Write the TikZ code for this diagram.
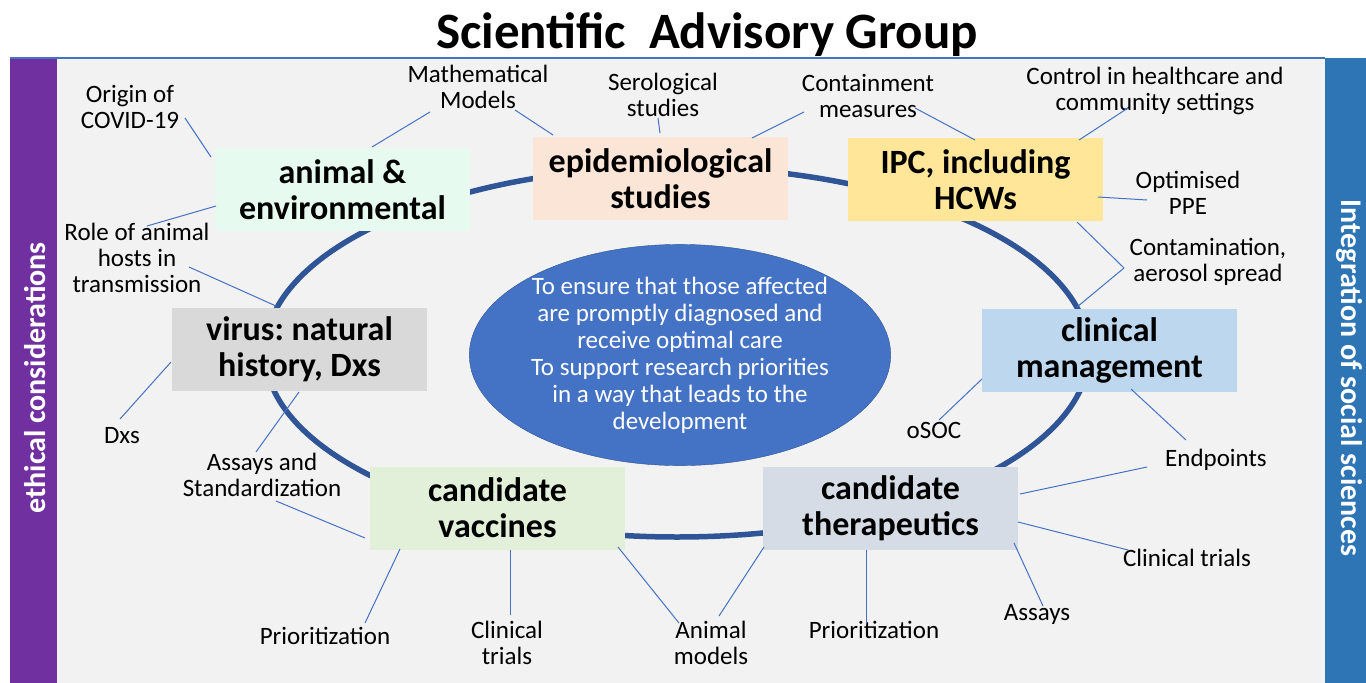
\documentclass[tikz,border=0pt]{standalone}
\usepackage{fontspec}
\setmainfont{Carlito}
\usetikzlibrary{shapes.geometric}
\frenchspacing
\definecolor{ethic}{HTML}{7030A0}
\definecolor{social}{HTML}{2E75B6}
\definecolor{ring}{HTML}{2F5597}
\definecolor{link}{HTML}{4472C4}
\definecolor{panel}{HTML}{F2F2F2}
\definecolor{cAnimal}{HTML}{E6FAF0}
\definecolor{cEpi}{HTML}{FBE5D6}
\definecolor{cIpc}{HTML}{FFE699}
\definecolor{cClin}{HTML}{BDD7EE}
\definecolor{cTher}{HTML}{D6DCE5}
\definecolor{cVacc}{HTML}{E2F0D9}
\definecolor{cVirus}{HTML}{D9D9D9}
\begin{document}
\begin{tikzpicture}[x=1pt,y=-1pt,
	area/.style={minimum width=255pt,minimum height=83pt,inner sep=0pt,align=center,
		font=\fontsize{34}{36}\selectfont\bfseries},
	topic/.style={align=center,inner sep=0pt,font=\fontsize{25}{26}\selectfont},
	side/.style={text=white,inner sep=0pt,font=\fontsize{30}{32}\selectfont\bfseries},
	link/.style={draw=link,line width=1pt}]

				\useasboundingbox (0,0) rectangle (1366,683);

				% Frame

				\fill[panel] (57,58) rectangle (1325,683);
				\fill[ethic] (10,58) rectangle (57,683);
				\fill[social] (1325,58) rectangle (1366,683);
				\draw[link,line width=1.5pt] (10,58) -- (1325,58);

				\node[anchor=base,font=\fontsize{51}{54}\selectfont\bfseries] (title) at (707,48) {Scientific\ \ Advisory Group};
				\node[side,rotate=90] (ethics) at (35,378) {ethical considerations};
				\node[side,rotate=-90] (socsci) at (1349,378) {Integration of social sciences};

				% Ring and goal

				\draw[ring,line width=5.5pt] (677,352) ellipse [x radius=412, y radius=185];
				\node[ellipse,draw=ring,fill=link,minimum width=416pt,minimum height=194pt,inner sep=0pt,
					text=white,align=center,font=\fontsize{25}{27}\selectfont] (goal) at (680,355)
					{To ensure that those affected\\are promptly diagnosed and\\receive optimal care\\
					To support research priorities\\in a way that leads to the\\development};

				% Areas

				\node[area,fill=cAnimal] (animal) at (342.5,189.5) {animal \&\\environmental};
				\node[area,fill=cEpi] (epi) at (660.5,178.5) {epidemiological\\studies};
				\node[area,fill=cIpc] (ipc) at (975.5,179.5) {IPC, including\\HCWs};
				\node[area,fill=cClin] (clin) at (1109.5,350) {clinical\\management};
				\node[area,fill=cTher] (ther) at (890.5,508.5) {candidate\\therapeutics};
				\node[area,fill=cVacc] (vacc) at (497.5,508) {candidate\\vaccines};
				\node[area,fill=cVirus] (virus) at (299.5,349) {virus: natural\\history, Dxs};

				% Topics

				\node[topic] (origin) at (130,107) {Origin of\\COVID-19};
				\node[topic] (math) at (478,87) {Mathematical\\Models};
				\node[topic] (sero) at (663,95) {Serological\\studies};
				\node[topic] (contain) at (868,96) {Containment\\measures};
				\node[topic] (control) at (1155,91) {Control in healthcare and\\community settings};
				\node[topic] (ppe) at (1188,193) {Optimised\\PPE};
				\node[topic] (contam) at (1208,262) {Contamination,\\aerosol spread};
				\node[topic] (hosts) at (137,258) {Role of animal\\hosts in\\transmission};
				\node[topic] (dxs) at (122,436) {Dxs};
				\node[topic] (assays) at (262,475) {Assays and\\Standardization};
				\node[topic] (prioV) at (325,636) {Prioritization};
				\node[topic] (trialsV) at (507,643) {Clinical\\trials};
				\node[topic] (models) at (711,643) {Animal\\models};
				\node[topic] (prioT) at (874,630) {Prioritization};
				\node[topic] (assaysT) at (1037,614) {Assays};
				\node[topic] (trialsT) at (1187,558) {Clinical trials};
				\node[topic] (endpts) at (1216,460) {Endpoints};
				\node[topic] (osoc) at (934,430) {oSOC};

				% Link ends

				\coordinate (o1) at (185,118);   \coordinate (o2) at (211,157);
				\coordinate (m1) at (430,112);   \coordinate (m2) at (372,147);
				\coordinate (m3) at (515,110);   \coordinate (m4) at (553,135);
				\coordinate (s1) at (658,118);   \coordinate (s2) at (660,133);
				\coordinate (c1) at (804,112);   \coordinate (c2) at (752,138);
				\coordinate (c3) at (915,108);   \coordinate (c4) at (975,140);
				\coordinate (h1) at (1128,108);  \coordinate (h2) at (1079,140);
				\coordinate (p1) at (1098,197);  \coordinate (p2) at (1147,200);
				\coordinate (a1) at (1077,222);  \coordinate (a2) at (1124,268);
				\coordinate (a3) at (1077,307);
				\coordinate (r1) at (216,206);   \coordinate (r2) at (147,226);
				\coordinate (r3) at (189,267);   \coordinate (r4) at (276,306);
				\coordinate (d1) at (120,419);   \coordinate (d2) at (171,362);
				\coordinate (s3) at (256,452);   \coordinate (s4) at (299,392);
				\coordinate (s5) at (276,501);   \coordinate (s6) at (365,538);
				\coordinate (v1) at (365,623);   \coordinate (v2) at (400,549);
				\coordinate (v3) at (510,615);   \coordinate (v4) at (510,550);
				\coordinate (v5) at (679,623);   \coordinate (v6) at (618,547);
				\coordinate (t1) at (719,616);   \coordinate (t2) at (764,547);
				\coordinate (t3) at (866,623);   \coordinate (t4) at (866,550);
				\coordinate (t5) at (1043,606);  \coordinate (t6) at (1014,543);
				\coordinate (t7) at (1018,522);  \coordinate (t8) at (1128,550);
				\coordinate (t9) at (1020,494);  \coordinate (t10) at (1147,467);
				\coordinate (k1) at (939,420);   \coordinate (k2) at (982,379);
				\coordinate (k3) at (1131,389);  \coordinate (k4) at (1186,440);

				\foreach \a/\b in {o1/o2,m1/m2,m3/m4,s1/s2,c1/c2,c3/c4,h1/h2,p1/p2,a1/a2,a2/a3,
					r1/r2,r3/r4,d1/d2,s3/s4,s5/s6,v1/v2,v3/v4,v5/v6,t1/t2,t3/t4,t5/t6,t7/t8,t9/t10,k1/k2,k3/k4}
				\draw[link] (\a) -- (\b);

			\end{tikzpicture}
\end{document}
